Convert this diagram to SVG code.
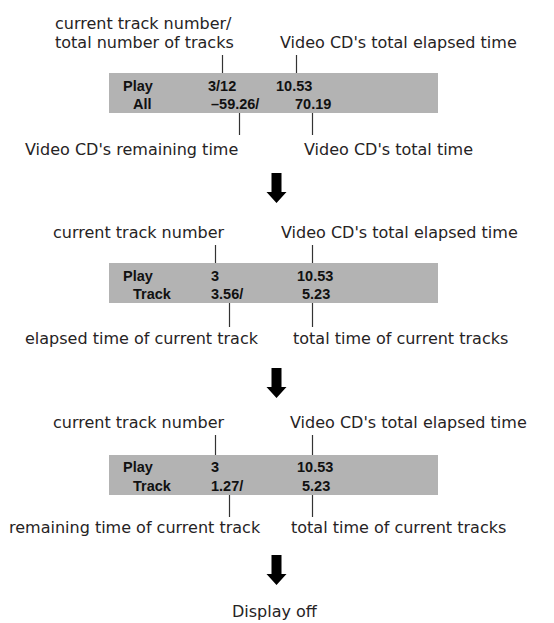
<svg xmlns="http://www.w3.org/2000/svg" width="554" height="623" viewBox="0 0 554 623">
<style>
.lbl{font-family:"DejaVu Sans","Liberation Sans",sans-serif;font-size:16px;fill:#262324}
.val{font-family:"Liberation Sans",Arial,sans-serif;font-size:14.5px;font-weight:bold;fill:#111}
.box{fill:#b3b3b3}
.ld{stroke:#333;stroke-width:1.2;fill:none}
.arr{fill:#000}
</style>
<rect width="554" height="623" fill="#fff"/>
<g id="connectors">
  <line class="ld" x1="222.5" y1="55" x2="222.5" y2="73"/>
  <line class="ld" x1="296.5" y1="55" x2="296.5" y2="73"/>
  <line class="ld" x1="239.5" y1="113" x2="239.5" y2="135"/>
  <line class="ld" x1="312.5" y1="113" x2="312.5" y2="135"/>
  <polygon class="arr" points="271.5,173 281.5,173 281.5,192 286.5,192 276.5,203 266.5,192 271.5,192"/>
  <line class="ld" x1="215.5" y1="245" x2="215.5" y2="263"/>
  <line class="ld" x1="312.5" y1="245" x2="312.5" y2="263"/>
  <line class="ld" x1="229.5" y1="303" x2="229.5" y2="327"/>
  <line class="ld" x1="312.5" y1="303" x2="312.5" y2="327"/>
  <polygon class="arr" points="271.5,368 281.5,368 281.5,387 286.5,387 276.5,398 266.5,387 271.5,387"/>
  <line class="ld" x1="215.5" y1="435" x2="215.5" y2="455"/>
  <line class="ld" x1="312.5" y1="435" x2="312.5" y2="455"/>
  <line class="ld" x1="229.5" y1="495" x2="229.5" y2="517"/>
  <line class="ld" x1="312.5" y1="495" x2="312.5" y2="517"/>
  <polygon class="arr" points="271.5,555 281.5,555 281.5,574 286.5,574 276.5,585 266.5,574 271.5,574"/>
</g>
<g id="display1">
  <rect class="box" x="109" y="73" width="329" height="40"/>
  <text class="val" x="123" y="91">Play</text>
  <text class="val" x="208" y="91">3/12</text>
  <text class="val" x="276" y="91">10.53</text>
  <text class="val" x="133" y="109">All</text>
  <text class="val" x="211" y="109">–59.26/</text>
  <text class="val" x="295" y="109">70.19</text>
</g>
<g id="label1-track"><text class="lbl" x="55" y="29">current track number/</text><text class="lbl" x="55" y="48">total number of tracks</text></g>
<g id="label1-elapsed"><text class="lbl" x="280" y="48">Video CD's total elapsed time</text></g>
<g id="label1-remaining"><text class="lbl" x="25" y="155">Video CD's remaining time</text></g>
<g id="label1-total"><text class="lbl" x="304" y="155">Video CD's total time</text></g>

<g id="display2">
  <rect class="box" x="109" y="263" width="329" height="40"/>
  <text class="val" x="123" y="281">Play</text>
  <text class="val" x="211" y="281">3</text>
  <text class="val" x="297" y="281">10.53</text>
  <text class="val" x="133" y="299">Track</text>
  <text class="val" x="211" y="299">3.56/</text>
  <text class="val" x="302" y="299">5.23</text>
</g>
<g id="label2-track"><text class="lbl" x="53" y="238">current track number</text></g>
<g id="label2-elapsed"><text class="lbl" x="281" y="238">Video CD's total elapsed time</text></g>
<g id="label2-elapsed-track"><text class="lbl" x="25" y="344">elapsed time of current track</text></g>
<g id="label2-total"><text class="lbl" x="293" y="344">total time of current tracks</text></g>

<g id="display3">
  <rect class="box" x="109" y="455" width="329" height="40"/>
  <text class="val" x="123" y="472">Play</text>
  <text class="val" x="211" y="472">3</text>
  <text class="val" x="297" y="472">10.53</text>
  <text class="val" x="133" y="491">Track</text>
  <text class="val" x="211" y="491">1.27/</text>
  <text class="val" x="302" y="491">5.23</text>
</g>
<g id="label3-track"><text class="lbl" x="53" y="428">current track number</text></g>
<g id="label3-elapsed"><text class="lbl" x="290" y="428">Video CD's total elapsed time</text></g>
<g id="label3-remaining"><text class="lbl" x="9" y="533">remaining time of current track</text></g>
<g id="label3-total"><text class="lbl" x="291" y="533">total time of current tracks</text></g>

<g id="display-off"><text class="lbl" x="232" y="617">Display off</text></g>
</svg>
